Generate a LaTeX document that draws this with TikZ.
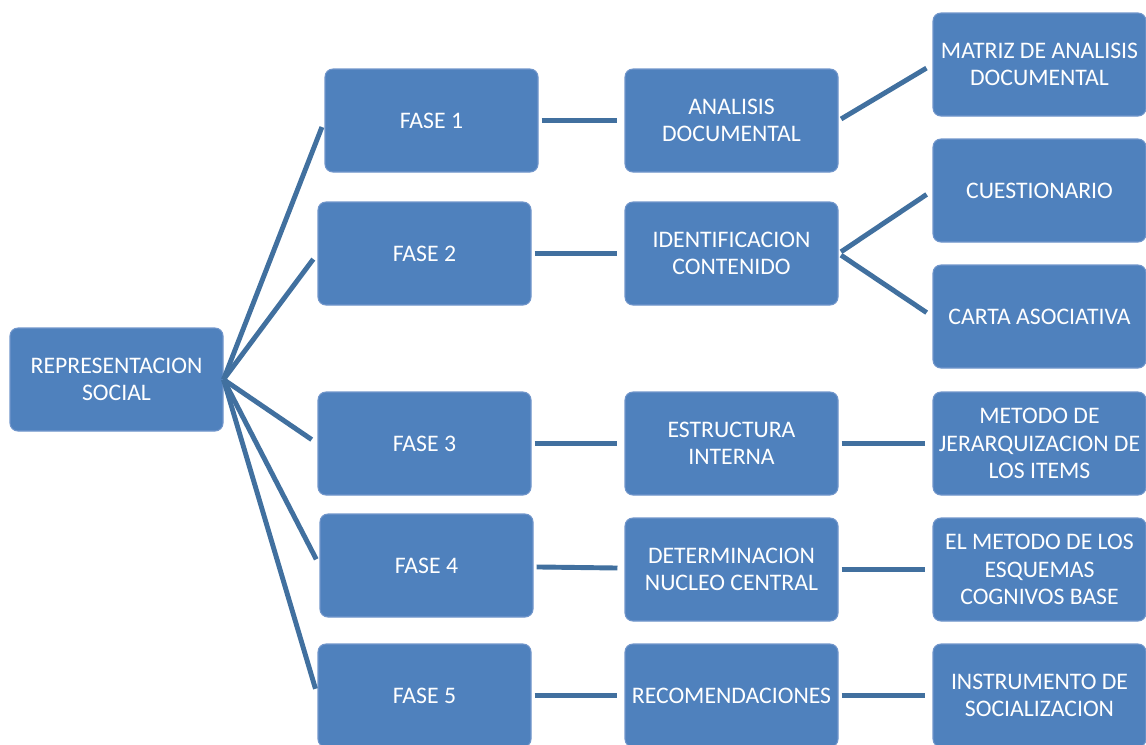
\documentclass[tikz,border=0pt]{standalone}
\usepackage{fontspec}
\setmainfont{Carlito}
\usepackage{xcolor}
\usepackage{tikz}
\usetikzlibrary{positioning, calc}
\definecolor{boxblue}{HTML}{4F81BD}
\definecolor{boxrim}{HTML}{7196CB}
\definecolor{linkblue}{HTML}{41709F}
\tikzset{%
	box/.style={draw=boxrim, line width=0.6pt, fill=boxblue, rectangle, rounded corners=4.5pt,%
		minimum width=4.26cm, minimum height=2.06cm, inner sep=0mm, text=white,%
		align=center, font=\fontsize{13.5}{15.5}\selectfont},
	link/.style={draw=linkblue, line width=2.8pt},
	fan/.style={link, shorten >=0.14cm},
	hop/.style={link, shorten <=0.06cm, shorten >=0.14cm}
}
\begin{document}
\begin{tikzpicture}
	\useasboundingbox (0,0) rectangle (22.92,-14.88);
	\clip (0,0) rectangle (22.92,-14.88);

	\node[box] (rep) at (2.33,-7.59) {REPRESENTACION\\SOCIAL};

	\node[box] (f1) at (8.63,-2.41) {FASE 1};
	\node[box] (f2) at (8.49,-5.07) {FASE 2};
	\node[box] (f3) at (8.49,-8.87) {FASE 3};
	\node[box] (f4) at (8.53,-11.31) {FASE 4};
	\node[box] (f5) at (8.49,-13.91) {FASE 5};

	\node[box] (analisis) at (14.63,-2.41) {ANALISIS\\DOCUMENTAL};
	\node[box] (identif) at (14.63,-5.07) {IDENTIFICACION\\CONTENIDO};
	\node[box] (estruct) at (14.63,-8.87) {ESTRUCTURA\\INTERNA};
	\node[box] (nucleo) at (14.63,-11.39) {DETERMINACION\\NUCLEO CENTRAL};
	\node[box] (recom) at (14.63,-13.91) {RECOMENDACIONES};

	\node[box] (matriz) at (20.79,-1.29) {MATRIZ DE ANALISIS\\DOCUMENTAL};
	\node[box] (cuest) at (20.79,-3.81) {CUESTIONARIO};
	\node[box] (carta) at (20.79,-6.33) {CARTA ASOCIATIVA};
	\node[box] (jerarq) at (20.79,-8.87) {METODO DE\\JERARQUIZACION DE\\LOS ITEMS};
	\node[box] (esquemas) at (20.79,-11.39) {EL METODO DE LOS\\ESQUEMAS\\COGNIVOS BASE};
	\node[box] (instr) at (20.79,-13.91) {INSTRUMENTO DE\\SOCIALIZACION};

	% fan out of the central node
	\foreach \f in {f1,f2,f3,f4,f5}
		\draw[fan] (rep.east) to (\f.west);

	% phase -> step -> tool
	\draw[hop] (f1) to (analisis);
	\draw[hop] (f2) to (identif);
	\draw[hop] (f3) to (estruct);
	\draw[hop] (f4) to (nucleo);
	\draw[hop] (f5) to (recom);

	\draw[hop] (analisis.east) to (matriz.west);
	\draw[hop] (identif.east) to (cuest.west);
	\draw[hop] (identif.east) to (carta.west);
	\draw[hop] (estruct) to (jerarq);
	\draw[hop] (nucleo) to (esquemas);
	\draw[hop] (recom) to (instr);
\end{tikzpicture}
\end{document}
